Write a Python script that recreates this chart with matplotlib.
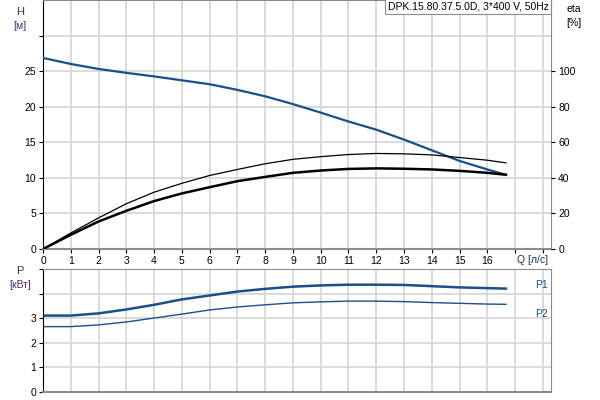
import matplotlib.pyplot as plt

plt.rcParams['font.family'] = ['Liberation Sans', 'DejaVu Sans']

# Pump curve data
Q = [0, 1, 2, 3, 4, 5, 6, 7, 8, 9, 10, 11, 12, 13, 14, 15, 16, 16.67]
H = [26.9, 26.05, 25.35, 24.8, 24.3, 23.75, 23.2, 22.4, 21.5, 20.4,
     19.2, 17.95, 16.8, 15.4, 13.9, 12.4, 11.2, 10.45]
eta_thin = [0, 9, 17.5, 25.5, 32, 37, 41.4, 44.8, 48, 50.5,
            52, 53.2, 53.8, 53.6, 53, 51.5, 50, 48.5]
eta_thick = [0, 8, 15.5, 21.5, 27, 31.3, 34.8, 38.2, 40.6, 42.9,
             44.2, 45.1, 45.4, 45.2, 44.8, 44, 42.9, 41.8]
P1 = [3.1, 3.1, 3.19, 3.35, 3.54, 3.76, 3.92, 4.08, 4.19, 4.28,
      4.33, 4.36, 4.36, 4.35, 4.3, 4.25, 4.22, 4.2]
P2 = [2.65, 2.65, 2.72, 2.84, 3.0, 3.16, 3.33, 3.45, 3.54, 3.62,
      3.66, 3.69, 3.69, 3.67, 3.63, 3.6, 3.57, 3.56]

x_ticks = list(range(0, 19))
x_labels = [str(i) for i in range(0, 17)] + ['', '']
h_ticks = [0, 5, 10, 15, 20, 25, 30]
h_labels = ['0', '5', '10', '15', '20', '25', '']
eta_ticks = [0, 20, 40, 60, 80, 100]
p_ticks = [0, 1, 2, 3, 4, 5]
p_labels = ['0', '1', '2', '3', '', '']

title = "DPK.15.80.37.5.0D, 3*400 V, 50Hz"
blue = '#1a4f8c'
grid_c = '#d4d4d4'
spine_c = '#8c8c8c'
fs = 7.5

fig = plt.figure(figsize=(6, 4), dpi=100)

# --- head / efficiency axes ---
ax = fig.add_axes([0.0717, 0.3775, 0.847, 0.6215])
ax.set_xlim(0, 18.3)
ax.set_ylim(0, 35)
ax.set_xticks(x_ticks)
ax.set_xticklabels(x_labels, fontsize=fs)
ax.set_yticks(h_ticks)
ax.set_yticklabels(h_labels, fontsize=fs)
ax.grid(True, color=grid_c, linewidth=1.2)
ax.set_axisbelow(True)
ax.tick_params(length=3, width=0.8, pad=2)
for s in ['top', 'right', 'bottom']:
    ax.spines[s].set_color(spine_c)
ax.spines['bottom'].set_linewidth(1.5)
ax.spines['left'].set_color('black')

ax2 = ax.twinx()
ax2.set_ylim(0, 140)
ax2.set_yticks(eta_ticks)
ax2.set_yticklabels([str(v) for v in eta_ticks], fontsize=fs)
ax2.tick_params(length=3, width=0.8, pad=2)
for s in ['top', 'right', 'bottom', 'left']:
    ax2.spines[s].set_visible(False)

ax2.plot(Q, eta_thin, color='black', linewidth=0.9)
ax2.plot(Q, eta_thick, color='black', linewidth=1.8)
ax.plot(Q, H, color=blue, linewidth=1.6, zorder=5)

ax.text(0.995, 0.997, title, transform=ax.transAxes, ha='right', va='top',
        fontsize=fs, bbox=dict(facecolor='white', edgecolor=spine_c,
                               linewidth=0.8, pad=2.0))

fig.text(20 / 600, 1 - 12 / 400, 'H', fontsize=8, color='#30305a', ha='center', va='center')
fig.text(20 / 600, 1 - 26 / 400, '[м]', fontsize=fs, color='#4a2a6a', ha='center', va='center')
fig.text(574 / 600, 1 - 9 / 400, 'eta', fontsize=fs, ha='center', va='center')
fig.text(574 / 600, 1 - 23 / 400, '[%]', fontsize=fs, ha='center', va='center')
fig.text(533 / 600, 1 - 260 / 400, 'Q [л/c]', fontsize=fs, color='#1a3060', ha='center', va='center')

# --- power axes ---
axp = fig.add_axes([0.0717, 0.021, 0.847, 0.3065])
axp.set_xlim(0, 18.3)
axp.set_ylim(0, 5)
axp.set_xticks(x_ticks)
axp.set_xticklabels([])
axp.tick_params(axis='x', length=0)
axp.set_yticks(p_ticks)
axp.set_yticklabels(p_labels, fontsize=fs)
axp.tick_params(axis='y', length=3, width=0.8, pad=2)
axp.grid(True, color=grid_c, linewidth=1.2)
axp.set_axisbelow(True)
for s in ['top', 'right', 'bottom']:
    axp.spines[s].set_color(spine_c)
axp.spines['bottom'].set_linewidth(1.5)
axp.spines['left'].set_color('black')

axp.plot(Q, P1, color=blue, linewidth=1.8)
axp.plot(Q, P2, color=blue, linewidth=1.0)
axp.text(17.95, 4.35, 'P1', fontsize=fs, color=blue, ha='center', va='center')
axp.text(17.95, 3.15, 'P2', fontsize=fs, color=blue, ha='center', va='center')

fig.text(20 / 600, 1 - 271 / 400, 'P', fontsize=8, color='#30305a', ha='center', va='center')
fig.text(20 / 600, 1 - 285 / 400, '[кВт]', fontsize=fs, color='#4a2a6a', ha='center', va='center')

fig.savefig('out.png', dpi=100)
